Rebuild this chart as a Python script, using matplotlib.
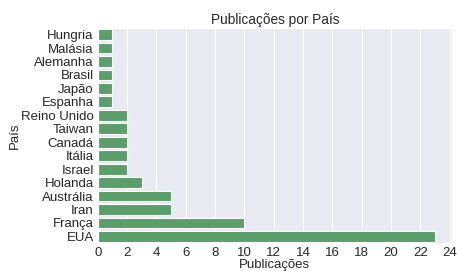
import matplotlib
matplotlib.use("Agg")
import matplotlib.pyplot as plt
import seaborn as sns

paises = ['EUA', 'França', 'Iran', 'Austrália', 'Holanda', 'Israel', 'Itália', 'Canadá',
          'Taiwan', 'Reino Unido', 'Espanha', 'Japão', 'Brasil', 'Alemanha', 'Malásia', 'Hungria']
publicacoes = [23, 10, 5, 5, 3, 2, 2, 2, 2, 2, 1, 1, 1, 1, 1, 1]
xticks = list(range(0, 25, 2))

sns.set_style("darkgrid")
plt.rcParams['font.family'] = ['Liberation Sans', 'DejaVu Sans']

fig = plt.figure(figsize=(4.57, 2.71), dpi=100)
ax = fig.add_axes([0.214, 0.103, 0.775, 0.794])

# barras horizontais
ax.barh(range(len(paises)), publicacoes, height=0.8, color='#5a9e6a',
        edgecolor='white', linewidth=0.8)
ax.set_yticks(range(len(paises)))
ax.set_yticklabels(paises)
ax.set_xticks(xticks)
ax.set_xlim(0, 24.15)
ax.set_ylim(-0.5, len(paises) - 0.5)
ax.grid(axis='y', visible=False)
ax.tick_params(labelsize=9.5, length=0, pad=3)

ax.set_title('Publicações por País', fontsize=9.8, pad=3)
ax.set_xlabel('Publicações', fontsize=9.5, labelpad=0)
ax.set_ylabel('País', fontsize=9.5, labelpad=0)

fig.savefig('out.png', dpi=100)
